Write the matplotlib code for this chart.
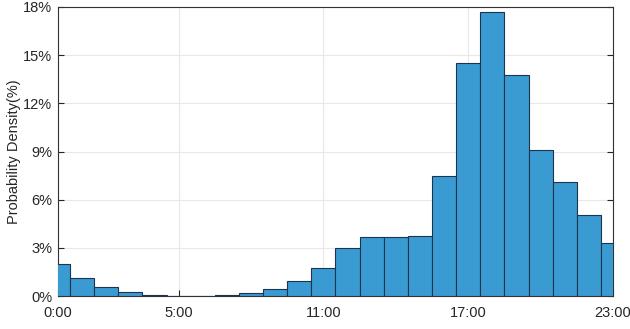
import matplotlib.pyplot as plt
import numpy as np

plt.rcParams['font.family'] = ['Liberation Sans', 'DejaVu Sans']

# hour of day (bin centres) and share of charging starts, %
hours = np.arange(24)
density = [2.00, 1.10, 0.54, 0.23, 0.08, 0.00, 0.00, 0.06, 0.19, 0.45, 0.93, 1.76,
           2.99, 3.67, 3.67, 3.74, 7.47, 14.53, 17.66, 13.76, 9.11, 7.08, 5.02, 3.28]
xtick_pos = [0, 5, 11, 17, 23]
xtick_lab = ['0:00', '5:00', '11:00', '17:00', '23:00']
ytick_pos = [0, 3, 6, 9, 12, 15, 18]

fig = plt.figure(figsize=(6.3, 3.29), dpi=100)
ax = fig.add_axes([0.092, 0.100, 0.881, 0.879])

ax.bar(hours, density, width=1.0, color='#3a9ad2', edgecolor='#1b3550',
       linewidth=0.8, zorder=3)

ax.set_xlim(0, 23)
ax.set_ylim(0, 18)
ax.set_xticks(xtick_pos)
ax.set_xticklabels(xtick_lab)
ax.set_yticks(ytick_pos)
ax.set_yticklabels([f'{v}%' for v in ytick_pos])
ax.grid(True, color='#e8e8e8', linewidth=0.8, zorder=0)
ax.tick_params(direction='in', length=4, labelsize=10.5, colors='#262626',
               right=True, top=False)
ax.tick_params(axis='x', pad=7)
ax.tick_params(axis='y', pad=4)
for s in ax.spines.values():
    s.set_color('#333333')
    s.set_linewidth(0.8)
ax.set_ylabel('Probability Density(%)', fontsize=10.5, color='#262626', labelpad=2)

plt.savefig('out.png', dpi=100)
